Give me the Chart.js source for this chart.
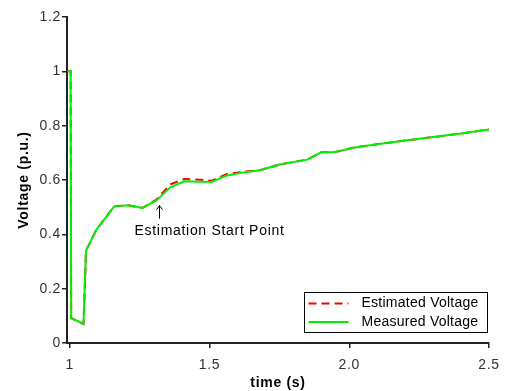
<!DOCTYPE html>
<html lang="en">
<head>
    <meta charset="UTF-8">
    <title>Voltage estimation</title>
    <script src="https://cdn.jsdelivr.net/npm/chart.js"></script>
    <style>
        body { margin: 0; background: #ffffff; }
        #wrap { width: 509px; height: 391px; }
    </style>
</head>
<body>
    <div id="wrap">
        <canvas id="voltChart" width="509" height="391"></canvas>
    </div>

    <script>
        // data
        const times     = [0.992, 1.003, 1.005, 1.049, 1.058, 1.095, 1.159, 1.209, 1.26, 1.31, 1.36, 1.41, 1.47, 1.507, 1.56, 1.62, 1.68, 1.75, 1.85, 1.90, 1.95, 2.02, 2.1, 2.2, 2.3, 2.4, 2.5];
        const measured  = [1.0, 1.0, 0.092, 0.07, 0.34, 0.417, 0.503, 0.507, 0.497, 0.525, 0.573, 0.595, 0.594, 0.593, 0.616, 0.628, 0.636, 0.657, 0.675, 0.702, 0.703, 0.72, 0.732, 0.745, 0.758, 0.771, 0.786];
        const estimated = [1.0, 1.0, 0.092, 0.07, 0.34, 0.417, 0.503, 0.507, 0.497, 0.528, 0.584, 0.604, 0.601, 0.597, 0.621, 0.630, 0.636, 0.657, 0.675, 0.702, 0.703, 0.72, 0.732, 0.745, 0.758, 0.771, 0.786];
        const xTicks = [1, 1.5, 2.0, 2.5];
        const yTicks = [0, 0.2, 0.4, 0.6, 0.8, 1.0, 1.2];
        const seriesLabels = ['Estimated Voltage', 'Measured Voltage'];
        const estStart = 1.32;

        const toPoints = vals => times.map((t, i) => ({ x: t, y: vals[i] }));

        // the original text is a bit wider than Arial, so spread it slightly
        const spacing = {
            id: 'spacing',
            beforeUpdate(chart) { chart.ctx.letterSpacing = '0.7px'; },
            beforeDraw(chart) { chart.ctx.letterSpacing = '0.7px'; }
        };

        // legend box + "Estimation Start Point" note, drawn inside the plot
        const extras = {
            id: 'extras',
            afterDraw(chart) {
                const ctx = chart.ctx;
                const area = chart.chartArea;
                const xs = chart.scales.x, ys = chart.scales.y;
                ctx.save();

                // annotation arrow
                const ax = Math.round(xs.getPixelForValue(estStart)) + 0.5;
                const ay = ys.getPixelForValue(0.48);
                ctx.strokeStyle = '#000';
                ctx.lineWidth = 1;
                ctx.beginPath();
                ctx.moveTo(ax, ay - 7);
                ctx.lineTo(ax, ay + 6);
                ctx.moveTo(ax - 3, ay - 3);
                ctx.lineTo(ax, ay - 7);
                ctx.lineTo(ax + 3, ay - 3);
                ctx.stroke();

                ctx.fillStyle = '#000';
                ctx.font = '14px "Liberation Sans", Arial, sans-serif';
                ctx.textBaseline = 'middle';
                ctx.textAlign = 'left';
                ctx.fillText('Estimation Start Point', ax - 25, ay + 19);

                // legend
                const bw = 183, bh = 40;
                const bx = Math.round(area.right - 2 - bw) + 0.5;
                const by = Math.round(area.bottom - 11 - bh) + 0.5;
                ctx.fillStyle = '#fff';
                ctx.fillRect(bx, by, bw, bh);
                ctx.strokeStyle = '#000';
                ctx.lineWidth = 1;
                ctx.strokeRect(bx, by, bw, bh);

                ctx.letterSpacing = '0.25px';
                const sets = chart.data.datasets;
                seriesLabels.forEach((lab, i) => {
                    const ds = sets.find(d => d.label === lab);
                    const rowY = by + 11 + i * 18.5;
                    ctx.beginPath();
                    ctx.strokeStyle = ds.borderColor;
                    ctx.lineWidth = 2;
                    ctx.setLineDash(ds.borderDash || []);
                    ctx.moveTo(bx + 4, rowY);
                    ctx.lineTo(bx + 44, rowY);
                    ctx.stroke();
                    ctx.setLineDash([]);
                    ctx.fillStyle = '#000';
                    ctx.fillText(lab, bx + 57, rowY);
                });
                ctx.restore();
            }
        };

        const axisColor = '#222';
        const tickFont = { family: '"Liberation Sans", Arial', size: 14 };
        const titleFont = { family: '"Liberation Sans", Arial', size: 14, weight: 'bold' };

        new Chart(document.getElementById('voltChart'), {
            type: 'line',
            data: {
                datasets: [
                    {
                        label: 'Estimated Voltage',
                        data: toPoints(estimated),
                        borderColor: '#ff0000',
                        borderWidth: 2,
                        borderDash: [8, 5],
                        pointRadius: 0,
                        tension: 0,
                        fill: false,
                        order: 1
                    },
                    {
                        label: 'Measured Voltage',
                        data: toPoints(measured),
                        borderColor: '#00ee00',
                        borderWidth: 2,
                        pointRadius: 0,
                        tension: 0,
                        fill: false,
                        order: 0
                    }
                ]
            },
            options: {
                responsive: false,
                animation: false,
                devicePixelRatio: 1,
                layout: { padding: { top: 17, right: 20, left: 0, bottom: 0 } },
                plugins: {
                    legend: { display: false },
                    tooltip: { enabled: false }
                },
                scales: {
                    x: {
                        type: 'linear',
                        min: 0.99,
                        max: 2.5,
                        afterBuildTicks: s => { s.ticks = xTicks.map(v => ({ value: v })); },
                        afterFit: s => { s.height = 48; },
                        border: { display: true, color: axisColor, width: 2 },
                        grid: { drawOnChartArea: false, drawTicks: true, tickLength: 5, color: axisColor, lineWidth: 1.5 },
                        ticks: {
                            autoSkip: false,
                            maxRotation: 0,
                            padding: 9,
                            color: '#333',
                            font: tickFont,
                            callback: v => (v === 1 ? '1' : v.toFixed(1))
                        },
                        title: {
                            display: true,
                            text: 'time (s)',
                            color: '#000',
                            padding: { top: 0, bottom: -1 },
                            font: titleFont
                        }
                    },
                    y: {
                        min: 0,
                        max: 1.2,
                        afterBuildTicks: s => { s.ticks = yTicks.map(v => ({ value: v })); },
                        afterFit: s => { s.width = 67; },
                        border: { display: true, color: axisColor, width: 2 },
                        grid: { drawOnChartArea: false, drawTicks: true, tickLength: 5, color: axisColor, lineWidth: 1.5 },
                        ticks: {
                            autoSkip: false,
                            padding: 1,
                            color: '#333',
                            font: tickFont,
                            callback: v => String(Number(v.toFixed(1)))
                        },
                        title: {
                            display: true,
                            text: 'Voltage (p.u.)',
                            color: '#000',
                            padding: { top: 16, bottom: 0 },
                            font: titleFont
                        }
                    }
                }
            },
            plugins: [spacing, extras]
        });
    </script>
</body>
</html>
